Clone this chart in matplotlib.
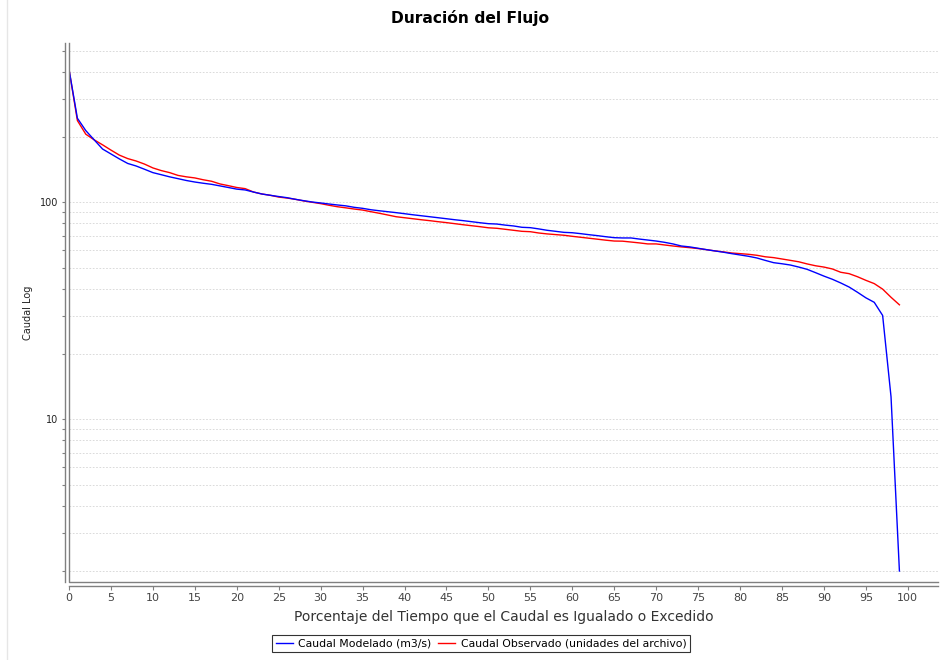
import matplotlib
matplotlib.use("Agg")
import matplotlib.pyplot as plt
from matplotlib.ticker import LogLocator, NullFormatter, FixedLocator, FixedFormatter, FuncFormatter
from matplotlib.lines import Line2D

# porcentaje del tiempo (0..99)
pct = list(range(100))

modelado = [
    410, 244, 214, 194, 176, 167, 158.5, 151, 147, 142,
    137, 134, 131, 128.5, 126, 124, 122.4, 121, 119, 117,
    115, 114, 111.5, 109.2, 107.7, 106.3, 105, 103.2, 101.7, 100.3,
    99.3, 98.2, 97.2, 96.3, 94.8, 93.8, 92.4, 91.4, 90.5, 89.6,
    88.6, 87.6, 86.7, 85.8, 84.9, 84.0, 83.1, 82.3, 81.4, 80.5,
    79.7, 79.4, 78.5, 77.8, 76.7, 76.4, 75.4, 74.3, 73.5, 72.7,
    72.4, 71.7, 70.9, 70.2, 69.4, 68.7, 68.5, 68.5, 67.7, 67.0,
    66.3, 65.4, 64.3, 62.9, 62.3, 61.4, 60.5, 59.7, 58.9, 58.0,
    57.2, 56.4, 55.4, 54.0, 52.7, 52.1, 51.4, 50.3, 49.1, 47.4,
    45.7, 44.2, 42.5, 40.7, 38.5, 36.3, 34.6, 30.1, 12.7, 2.0,
]

observado = [
    410, 238, 206, 194, 184, 174, 165, 159, 155, 150,
    144, 140, 137, 133, 131, 129.5, 127, 125, 121.5, 119.3,
    117, 115.6, 111.5, 109.2, 107.7, 105.7, 104.6, 103.2, 101.4, 100,
    98.6, 96.9, 95.4, 94.3, 93.1, 92.1, 90.5, 89.0, 87.4, 85.8,
    84.9, 84.0, 83.1, 82.3, 81.4, 80.6, 79.7, 78.8, 78.0, 77.2,
    76.3, 75.9, 75.1, 74.3, 73.5, 73.2, 72.2, 71.5, 71.0, 70.5,
    69.7, 69.0, 68.3, 67.6, 66.9, 66.3, 66.2, 65.6, 65.0, 64.3,
    64.3, 63.6, 62.9, 62.3, 61.8, 61.2, 60.5, 59.7, 59.1, 58.4,
    58.0, 57.6, 57.0, 56.1, 55.6, 54.8, 54.0, 53.2, 52.0, 51.0,
    50.3, 49.3, 47.6, 46.9, 45.4, 43.7, 42.2, 39.8, 36.5, 33.7,
]

x_ticks = list(range(0, 101, 5))

W, H = 940, 660
fig = plt.figure(figsize=(W / 100, H / 100), dpi=100, facecolor="white")
left, right, top, bottom = 69, 938, 43, 582
ax = fig.add_axes([left / W, 1 - bottom / H, (right - left) / W, (bottom - top) / H])

ax.plot(pct, modelado, color="#0000ff", lw=1.0, label="Caudal Modelado (m3/s)", zorder=3)
ax.plot(pct, observado, color="#ff0000", lw=1.0, label="Caudal Observado (unidades del archivo)", zorder=2)

ax.set_yscale("log")
ax.set_xlim(0, 103.6)
ax.set_ylim(1.78, 542)

ax.xaxis.set_major_locator(FixedLocator(x_ticks))
ax.xaxis.set_major_formatter(FixedFormatter([str(t) for t in x_ticks]))
ax.yaxis.set_major_locator(LogLocator(base=10))
ax.yaxis.set_major_formatter(FuncFormatter(lambda v, pos: f"{v:g}"))
ax.yaxis.set_minor_locator(LogLocator(base=10, subs=range(2, 10)))
ax.yaxis.set_minor_formatter(NullFormatter())

ax.grid(True, which="both", axis="y", color="#d4d4d4", linestyle=(0, (2, 2)), lw=0.6)
ax.set_axisbelow(True)

# plot edge on left/bottom, axis lines pushed slightly outward
for s in ("top", "right"):
    ax.spines[s].set_visible(False)
for s in ("left", "bottom"):
    ax.spines[s].set_position(("outward", 3))
    ax.spines[s].set_color("#808080")
    ax.spines[s].set_linewidth(1.0)
ax.add_line(Line2D([0, 0, 1], [1, 0, 0], transform=ax.transAxes, color="#808080",
                   lw=1.0, clip_on=False, zorder=4))

ax.tick_params(axis="x", which="major", length=3, width=0.8, color="#808080",
               labelsize=8, labelcolor="#444444", pad=2)
ax.tick_params(axis="y", which="both", length=2.5, width=0.8, color="#808080",
               labelsize=7, labelcolor="#222222", pad=2)

ax.set_xlabel("Porcentaje del Tiempo que el Caudal es Igualado o Excedido",
              fontsize=10, color="#333333", labelpad=5)
ax.set_ylabel("Caudal Log", fontsize=7, color="#222222", labelpad=5)

fig.suptitle("Duración del Flujo", fontsize=11.2, fontweight="bold", y=1 - 18 / H, va="center")

leg = fig.legend(loc="center", bbox_to_anchor=(481 / W, 1 - 643.5 / H), ncol=2,
                 fontsize=7.8, frameon=True, fancybox=False, handlelength=1.6,
                 handletextpad=0.5, columnspacing=0.6, borderpad=0.35)
leg.get_frame().set_edgecolor("black")
leg.get_frame().set_linewidth(0.8)

fig.add_artist(Line2D([7 / W, 7 / W], [0, 1], color="#e6e6e6", lw=1.0))

fig.savefig("out.png", dpi=100, facecolor="white")
